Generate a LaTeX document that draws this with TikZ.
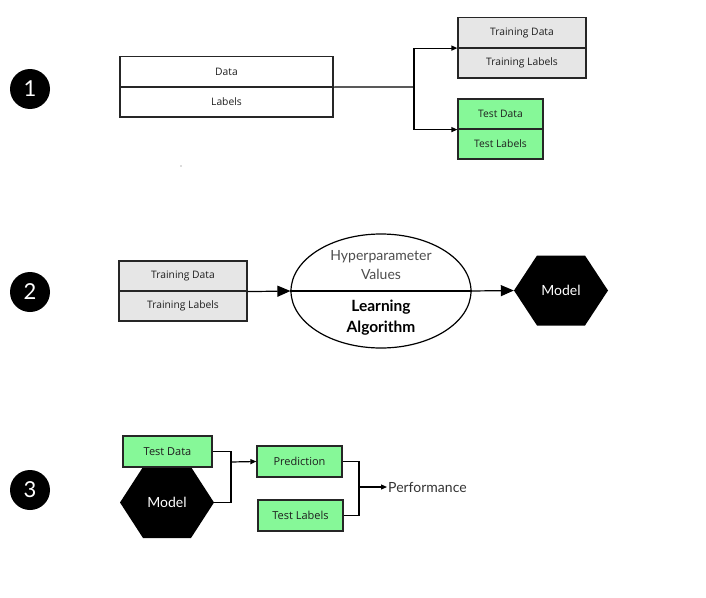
\documentclass[tikz,border=0pt]{standalone}
\usepackage{fontspec}
\setmainfont{Open Sans}
\newfontfamily\latofont{Lato}
\usetikzlibrary{shapes.geometric,arrows.meta}
\definecolor{boxgreen}{RGB}{134,248,152}
\definecolor{boxgray}{RGB}{230,230,230}
\definecolor{txt}{RGB}{30,30,30}
\begin{document}
\begin{tikzpicture}[x=1pt,y=-1pt,
  numcirc/.style={circle,fill=black,minimum size=40pt,inner sep=0pt,text=white,font=\latofont\fontsize{22}{24}\selectfont},
  halfbox/.style={draw=black!85,line width=1.2pt,minimum height=30pt,inner sep=0pt,font=\fontsize{10.3}{12}\selectfont,text=txt},
  graybox/.style={halfbox,fill=boxgray},
  greenbox/.style={halfbox,fill=boxgreen},
  hexbox/.style={rectangle,minimum width=94pt,minimum height=70pt,inner sep=0pt,text=white,
    font=\latofont\fontsize{14}{16}\selectfont,
    path picture={\fill[black] (path picture bounding box.west)
      -- ([xshift=23pt]path picture bounding box.north west)
      -- ([xshift=-23pt]path picture bounding box.north east)
      -- (path picture bounding box.east)
      -- ([xshift=-23pt]path picture bounding box.south east)
      -- ([xshift=23pt]path picture bounding box.south west) -- cycle;}},
  conn/.style={line width=1.2pt,draw=black},
  arr/.style={conn,-{Triangle[length=6pt,width=5pt]}},
  bigarr/.style={conn,-{Triangle[length=13pt,width=11pt]}}
]
\useasboundingbox (0,0) rectangle (706,597);
% ---------- Section 1
\node[numcirc] (n1) at (30,89) {1};
\node[halfbox,minimum width=213pt] (data) at (226.5,71.5) {Data};
\node[halfbox,minimum width=213pt] (labels) at (226.5,102) {Labels};
\node[graybox,minimum width=128pt] (trd) at (522,32.5) {Training Data};
\node[graybox,minimum width=128pt] (trl) at (522,63) {Training Labels};
\node[greenbox,minimum width=85pt] (ted) at (500.5,114) {Test Data};
\node[greenbox,minimum width=85pt] (tel) at (500.5,144) {Test Labels};
\coordinate (split) at (414,87);
\draw[conn] (data.south east) -- (split);
\draw[arr] (split) |- (trd.south west);
\draw[arr] (split) |- (ted.south west);
\fill[black!60] (181,166) circle (0.6pt);
% ---------- Section 2
\node[numcirc] (n2) at (30,292) {2};
\node[graybox,minimum width=128pt] (trd2) at (183,276) {Training Data};
\node[graybox,minimum width=128pt] (trl2) at (183,306) {Training Labels};
\node[ellipse,draw=black,line width=1.2pt,minimum width=180pt,minimum height=114pt,inner sep=0pt] (alg) at (381,291) {};
\draw[conn] (alg.west) -- (alg.east);
\node[font=\latofont\fontsize{14}{19}\selectfont,text=black!70,align=center] (hyp) at (381,265.5) {Hyperparameter\\Values};
\node[font=\latofont\bfseries\fontsize{15.5}{21}\selectfont,align=center] (learn) at (381,317.5) {Learning\\Algorithm};
\node[hexbox] (model2) at (561,290.5) {Model};
\draw[bigarr] (trd2.south east) -- (alg.west);
\draw[bigarr] (alg.east) -- (model2.west);
% ---------- Section 3
\node[numcirc] (n3) at (30,490) {3};
\node[hexbox,minimum height=71pt] (model3) at (167,502.5) {Model};
\node[greenbox,minimum width=89pt,minimum height=31pt,font=\fontsize{11}{12}\selectfont] (ted3) at (167.5,451.5) {Test Data};
\node[greenbox,minimum width=85pt,minimum height=31pt,font=\fontsize{11}{12}\selectfont] (pred) at (299.5,461.5) {Prediction};
\node[greenbox,minimum width=85pt,minimum height=31pt,font=\fontsize{11}{12}\selectfont] (tel3) at (300.5,515.5) {Test Labels};
\node[font=\latofont\fontsize{14}{16}\selectfont,text=black!80,anchor=west,inner sep=1pt] (perf) at (387,487) {Performance};
\coordinate (j1) at (231,462);
\coordinate (j2) at (359,487);
\draw[conn] (ted3.east) -| (j1) |- (model3.east);
\draw[arr] (j1) -- (pred.west);
\draw[conn] (pred.east) -| (j2) |- (tel3.east);
\draw[arr] (j2) -- (perf.west);
\end{tikzpicture}
\end{document}
